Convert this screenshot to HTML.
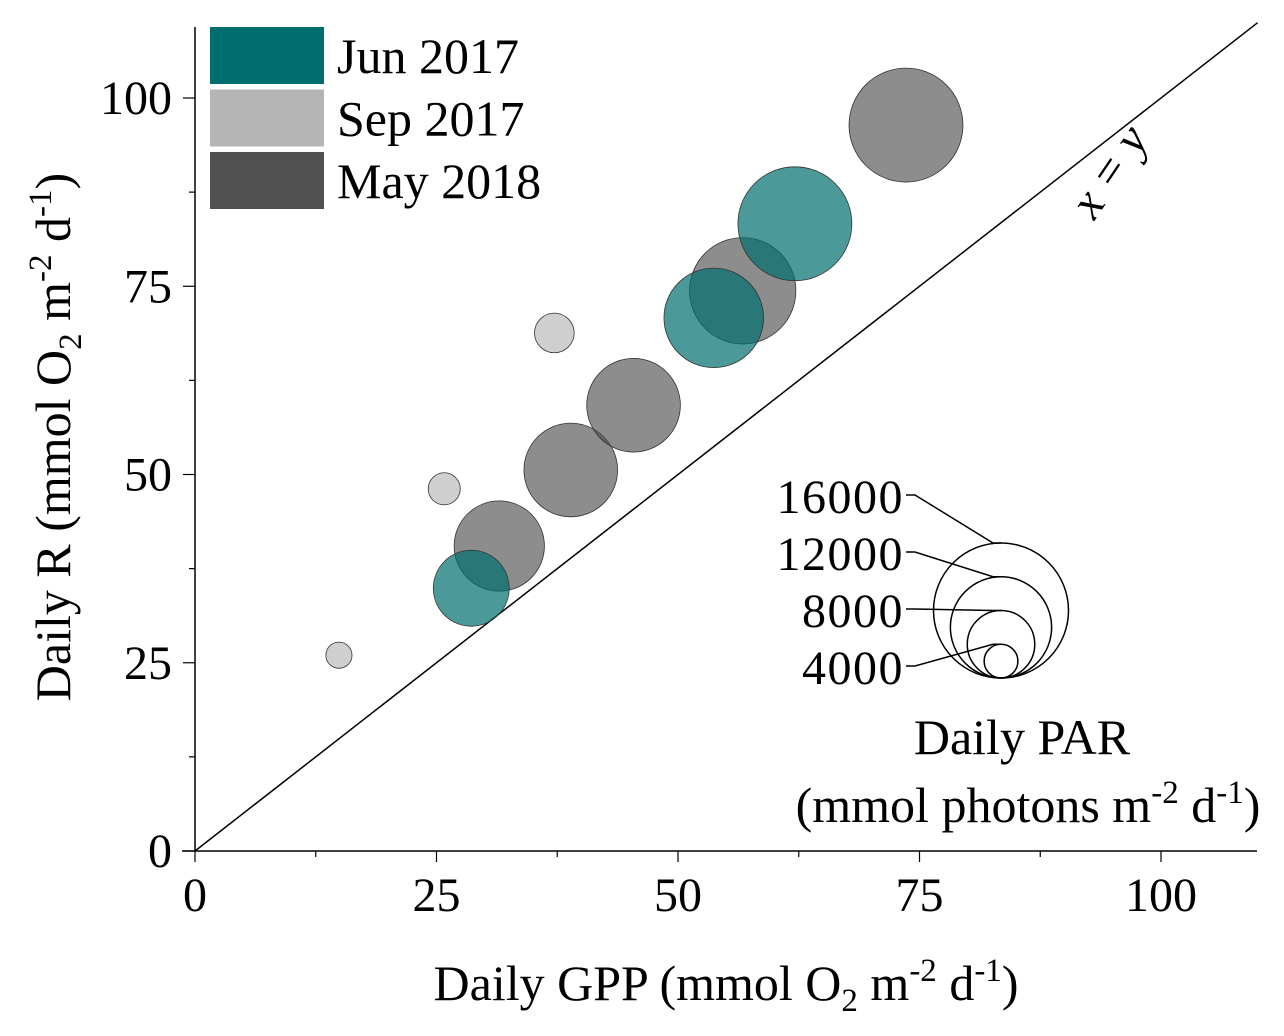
<!DOCTYPE html>
<html><head><meta charset="utf-8"><style>
html,body{margin:0;padding:0;background:#fff}
svg{display:block;font-family:"Liberation Serif",serif}
</style></head><body>
<svg id="chart" width="1284" height="1036" viewBox="0 0 1284 1036" xmlns="http://www.w3.org/2000/svg">
<g id="axes"></g>
<g id="marks"></g>
<g id="legend"></g>
</svg>
<script>
const sepGPP=[14.9,25.8,37.2];
const sepR=[26.0,48.1,68.8];
const sepPAR=[3100,3800,4700];
const junGPP=[28.6,53.7,62.1];
const junR=[34.9,70.8,83.3];
const junPAR=[9000,11800,13500];
const mayGPP=[31.5,38.9,45.4,56.7,73.6];
const mayR=[40.5,50.6,59.2,74.4,96.4];
const mayPAR=[10700,11100,11100,12600,13500];
const xTicks=[0,25,50,75,100];
const yTicks=[0,25,50,75,100];
const parLegend=[16000,12000,8000,4000];
const legendLabels=["Jun 2017","Sep 2017","May 2018"];

const NS="http://www.w3.org/2000/svg";
const X=v=>195+9.66*v;
const Y=v=>851-7.53*v;
const R=p=>p*67.5/16000;
function mk(tag,attrs,parent,text){const e=document.createElementNS(NS,tag);for(const k in attrs)e.setAttribute(k,attrs[k]);if(text!==undefined)e.textContent=text;parent.appendChild(e);return e;}
const axes=document.getElementById('axes'),marks=document.getElementById('marks'),leg=document.getElementById('legend');

let a=mk('line',{x1:195,y1:27,x2:195,y2:851,stroke:'#000','stroke-width':1.5},axes);


a=mk('line',{x1:182,y1:851,x2:1257,y2:851,stroke:'#000','stroke-width':1.5},axes);


for(let v=0;v<=110;v+=12.5){
  const maj=xTicks.includes(v);
  const t=mk('line',{x1:X(v),y1:851,x2:X(v),y2:851+(maj?11:6),stroke:'#000','stroke-width':1.2},axes);
  
  
}
for(let v=0;v<=108;v+=12.5){
  const maj=yTicks.includes(v);
  const t=mk('line',{x1:195,y1:Y(v),x2:195-(maj?12:6),y2:Y(v),stroke:'#000','stroke-width':1.2},axes);
  
  
}
xTicks.forEach(v=>{const t=mk('text',{x:X(v),y:911,'font-size':48,'text-anchor':'middle'},axes,String(v));
  
  });
yTicks.forEach(v=>{const t=mk('text',{x:172,y:Y(v)+16,'font-size':48,'text-anchor':'end'},axes,String(v));
  
  });

let d=mk('line',{x1:X(0),y1:Y(0),x2:X(110),y2:Y(110),stroke:'#000','stroke-width':1.5},axes);


d=mk('text',{x:0,y:0,'font-size':48,'font-style':'italic','text-anchor':'middle',transform:'translate(1122,180) rotate(-56)'},axes,'x = y');



let t=mk('text',{x:726,y:1000,'font-size':50,'text-anchor':'middle'},axes);
t.innerHTML='Daily GPP (mmol O<tspan font-size="33" dy="11">2</tspan><tspan dy="-11"> m</tspan><tspan font-size="33" dy="-19">-2</tspan><tspan dy="19"> d</tspan><tspan font-size="33" dy="-19">-1</tspan><tspan dy="19">)</tspan>';


t=mk('text',{x:0,y:0,'font-size':50,'text-anchor':'middle',transform:'translate(70,437) rotate(-90)'},axes);
t.innerHTML='Daily R (mmol O<tspan font-size="33" dy="11">2</tspan><tspan dy="-11"> m</tspan><tspan font-size="33" dy="-19">-2</tspan><tspan dy="19"> d</tspan><tspan font-size="33" dy="-19">-1</tspan><tspan dy="19">)</tspan>';



function series(gx,gy,gp,fill,op,name){
  gx.forEach((v,i)=>{const c=mk('circle',{cx:X(v),cy:Y(gy[i]),r:R(gp[i]),fill:fill,'fill-opacity':op,stroke:'#333','stroke-width':0.8},marks);
    
    });
}
series(sepGPP,sepR,sepPAR,'#b5b5b5',0.65,'bubble-sep-2017');
series(mayGPP,mayR,mayPAR,'#505050',0.65,'bubble-may-2018');
series(junGPP,junR,junPAR,'#006e6e',0.7,'bubble-jun-2017');

const cols=['#006e6e','#b5b5b5','#505050'];
legendLabels.forEach((l,i)=>{
  const y0=27+i*62.5;
  const r=mk('rect',{x:210,y:y0,width:114,height:57,fill:cols[i]},leg);
  
  
  const tx=mk('text',{x:337,y:y0+46,'font-size':50},leg,l);
  
  
});

const cx=1001,by=678;
const labY=[497,554,611,668];
parLegend.forEach((p,i)=>{
  const r=R(p);
  const c=mk('circle',{cx:cx,cy:by-r,r:r,fill:'none',stroke:'#000','stroke-width':1.5},leg);
  
  
  const ln=mk('polyline',{points:`${906},${labY[i]-2} ${915},${labY[i]-2} ${cx-8},${by-2*r} ${cx},${by-2*r}`,fill:'none',stroke:'#000','stroke-width':1.5},leg);
  
  
  const tx=mk('text',{x:904,y:labY[i]+16,'font-size':48,'text-anchor':'end','letter-spacing':'1.5'},leg,String(p));
  
  
});
t=mk('text',{x:1022,y:754,'font-size':50,'text-anchor':'middle'},leg,'Daily PAR');


t=mk('text',{x:1028,y:822,'font-size':50,'text-anchor':'middle'},leg);
t.innerHTML='(mmol photons m<tspan font-size="33" dy="-19">-2</tspan><tspan dy="19"> d</tspan><tspan font-size="33" dy="-19">-1</tspan><tspan dy="19">)</tspan>';


</script>
</body></html>
